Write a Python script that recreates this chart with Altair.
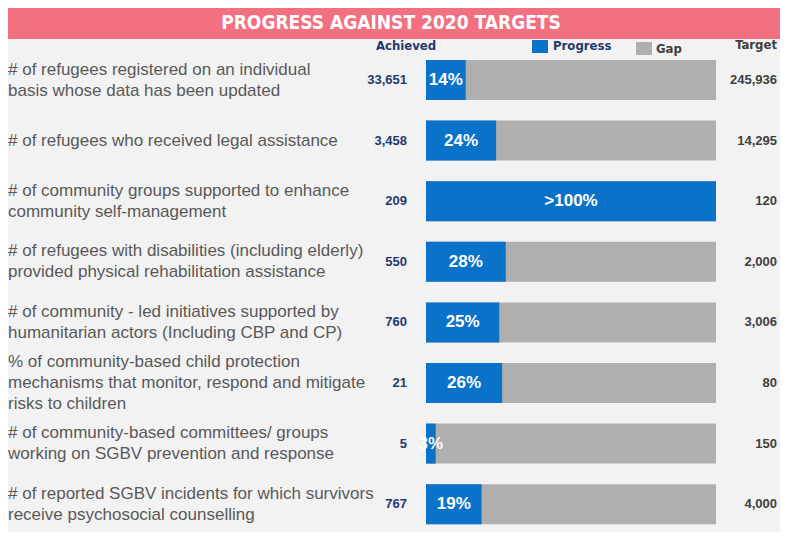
import altair as alt
import pandas as pd

# ---- data ----
labels = [
    "# of refugees registered on an individual\nbasis whose data has been updated",
    "# of refugees who received legal assistance",
    "# of  community groups supported to enhance\ncommunity self-management",
    "# of refugees with disabilities (including elderly)\nprovided physical rehabilitation assistance",
    "# of community - led initiatives supported by\nhumanitarian actors (Including CBP and CP)",
    "% of community-based child protection\nmechanisms that monitor, respond and mitigate\nrisks to children",
    "# of community-based committees/ groups\nworking on SGBV prevention and response",
    "# of reported SGBV incidents for which survivors\nreceive psychosocial counselling",
]
achieved = [33651, 3458, 209, 550, 760, 21, 5, 767]
target = [245936, 14295, 120, 2000, 3006, 80, 150, 4000]
pct_labels = ["14%", "24%", ">100%", "28%", "25%", "26%", "3%", "19%"]

keys = [f"r{i}" for i in range(len(labels))]
progress = [min(a / t * 100, 100) for a, t in zip(achieved, target)]

df = pd.DataFrame({
    "key": keys,
    "label": labels,
    "nlines": [l.count("\n") + 1 for l in labels],
    "achieved": [f"{a:,}" for a in achieved],
    "target": [f"{t:,}" for t in target],
    "progress": progress,
    "mid": [p / 2 for p in progress],
    "full": [100] * len(keys),
    "pct": pct_labels,
})

BLUE = "#0A72C8"
GRAY = "#AFAFAF"
NAVY = "#1F3A6D"
TXT = "#595959"
DARK = "#404040"
PINK = "#F2707F"
NARROW = "Liberation Sans Narrow, DejaVu Sans Condensed, sans-serif"
SANS = "Liberation Sans, Arial, sans-serif"
LH = 21

yscale = alt.Scale(domain=keys, range=[41.7, 526.5], paddingInner=0.34, paddingOuter=0.17)
xscale = alt.Scale(domain=[0, 100], range=[418, 708], zero=True, nice=False)
Y = alt.Y("key:N", scale=yscale, axis=None, sort=keys)

base = alt.Chart(df)

gap = base.mark_bar(color=GRAY).encode(x=alt.X("full:Q", scale=xscale, axis=None), y=Y)
prog = base.mark_bar(color=BLUE).encode(x=alt.X("progress:Q", scale=xscale, axis=None), y=Y)
pct_txt = base.mark_text(color="white", fontWeight="bold", fontSize=17, font=SANS,
                         align="center", baseline="middle").encode(
    x=alt.X("mid:Q", scale=xscale, axis=None), y=Y, text="pct:N")

label_layers = []
for n in (1, 2, 3):
    label_layers.append(
        base.transform_filter(alt.datum.nlines == n).mark_text(
            color=TXT, fontSize=17, font=SANS, align="left", baseline="middle",
            lineBreak="\n", lineHeight=LH, dy=-(n - 1) * LH / 2,
        ).encode(x=alt.value(0), y=Y, text="label:N")
    )

ach = base.mark_text(color=NAVY, fontSize=13, fontWeight="bold", font=SANS,
                     align="right", baseline="middle").encode(
    x=alt.value(399), y=Y, text="achieved:N")
tgt = base.mark_text(color=DARK, fontSize=13, fontWeight="bold", font=SANS,
                     align="right", baseline="middle").encode(
    x=alt.value(769), y=Y, text="target:N")

# ---- header: title banner, column headings, legend ----
one = pd.DataFrame({"t": ["PROGRESS AGAINST 2020 TARGETS"]})
banner = alt.Chart(one).mark_rect(color=PINK).encode(
    x=alt.value(-10), x2=alt.value(782), y=alt.value(-2), y2=alt.value(31))
title = alt.Chart(one).mark_text(color="white", fontSize=19, fontWeight="bold", font=NARROW,
                                 align="center", baseline="middle").encode(
    x=alt.value(383), y=alt.value(15), text="t:N")

heads = pd.DataFrame({"t": ["Achieved", "Progress", "Gap", "Target"]})
h_ach = alt.Chart(heads[heads.t == "Achieved"]).mark_text(
    color=NAVY, fontSize=13, fontWeight="bold", font=NARROW, align="center", baseline="middle"
).encode(x=alt.value(398), y=alt.value(38), text="t:N")
h_prog = alt.Chart(heads[heads.t == "Progress"]).mark_text(
    color=NAVY, fontSize=13, fontWeight="bold", font=NARROW, align="left", baseline="middle"
).encode(x=alt.value(545), y=alt.value(38), text="t:N")
h_gap = alt.Chart(heads[heads.t == "Gap"]).mark_text(
    color=DARK, fontSize=13, fontWeight="bold", font=NARROW, align="left", baseline="middle"
).encode(x=alt.value(648), y=alt.value(41), text="t:N")
h_tgt = alt.Chart(heads[heads.t == "Target"]).mark_text(
    color=DARK, fontSize=13, fontWeight="bold", font=NARROW, align="right", baseline="middle"
).encode(x=alt.value(769), y=alt.value(37), text="t:N")
sq_prog = alt.Chart(heads[heads.t == "Progress"]).mark_rect(color=BLUE).encode(
    x=alt.value(524), x2=alt.value(540), y=alt.value(32), y2=alt.value(45))
sq_gap = alt.Chart(heads[heads.t == "Gap"]).mark_rect(color=GRAY).encode(
    x=alt.value(628), x2=alt.value(644), y=alt.value(34), y2=alt.value(47))

chart = alt.layer(
    banner, title, h_ach, sq_prog, h_prog, sq_gap, h_gap, h_tgt,
    gap, prog, pct_txt, *label_layers, ach, tgt,
).properties(
    width=772, height=524,
    autosize=alt.AutoSizeParams(type="none"),
    padding=0,
    background="#F2F2F2",
).configure_view(stroke=None)

chart.save("out.html", embed_options={"renderer": "svg", "actions": False})
